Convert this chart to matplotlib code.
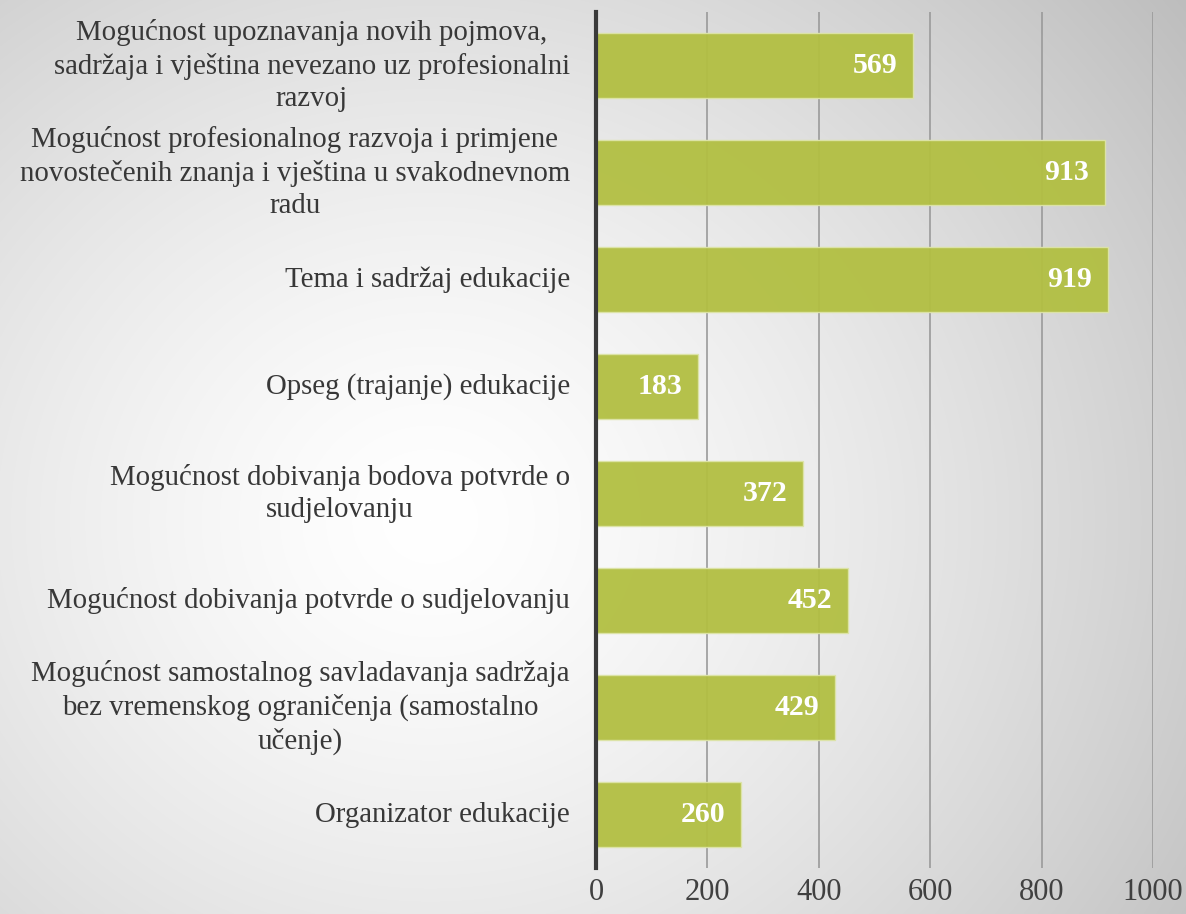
import numpy as np
import matplotlib
matplotlib.use("Agg")
import matplotlib.pyplot as plt

plt.rcParams["font.family"] = ["Liberation Serif", "DejaVu Serif"]

categories = [
    "Mogućnost upoznavanja novih pojmova,\nsadržaja i vještina nevezano uz profesionalni\nrazvoj",
    "Mogućnost profesionalnog razvoja i primjene\nnovostečenih znanja i vještina u svakodnevnom\nradu",
    "Tema i sadržaj edukacije",
    "Opseg (trajanje) edukacije",
    "Mogućnost dobivanja bodova potvrde o\nsudjelovanju",
    "Mogućnost dobivanja potvrde o sudjelovanju",
    "Mogućnost samostalnog savladavanja sadržaja\nbez vremenskog ograničenja (samostalno\nučenje)",
    "Organizator edukacije",
]
values = [569, 913, 919, 183, 372, 452, 429, 260]
xticks = [0, 200, 400, 600, 800, 1000]

W, H = 1186, 914
fig = plt.figure(figsize=(W / 100, H / 100), dpi=100)

# radial grey background
bg = fig.add_axes([0, 0, 1, 1], zorder=-10)
yy, xx = np.mgrid[0:H, 0:W]
d = np.hypot(xx - 430, (yy - 520) * 1.1) / 900.0
shade = 1.0 - 0.24 * np.clip(d, 0, 1.3) ** 1.4
bg.imshow(np.dstack([shade] * 3), aspect="auto", extent=[0, 1, 0, 1])
bg.axis("off")

ax = fig.add_axes([596 / W, 1 - 868 / H, (1153 - 596) / W, (868 - 12) / H])
ax.patch.set_alpha(0)
y = np.arange(len(values))
ax.barh(y, values, height=0.6, color="#b2bf42", alpha=0.95,
        edgecolor="#dde4a8", linewidth=1.0, zorder=3)
for yi, v in zip(y, values):
    ax.text(v - 28, yi, str(v), ha="right", va="center", color="white",
            fontsize=21.5, fontweight="bold", zorder=4)

ax.set_xlim(0, 1000)
ax.set_ylim(len(values) - 0.5, -0.5)
ax.set_xticks(xticks)
ax.set_xticklabels([str(t) for t in xticks])
ax.xaxis.grid(True, color="#9a9a9a", linewidth=1.2, zorder=0)
ax.set_axisbelow(True)
for s in ["top", "right", "bottom"]:
    ax.spines[s].set_visible(False)
ax.spines["left"].set_color("#3a3a3a")
ax.spines["left"].set_linewidth(3)
ax.spines["left"].set_zorder(5)
ax.tick_params(axis="x", length=0, labelsize=22, labelcolor="#404040", pad=7)
ax.tick_params(axis="y", length=0)
ax.set_yticks(y)
ax.set_yticklabels([])
for yi, c in zip(y, categories):
    ax.text(-47, yi, c, ha="right", va="center", multialignment="center",
            fontsize=20.8, color="#383838", linespacing=1.33)

fig.savefig("out.png", dpi=100)
